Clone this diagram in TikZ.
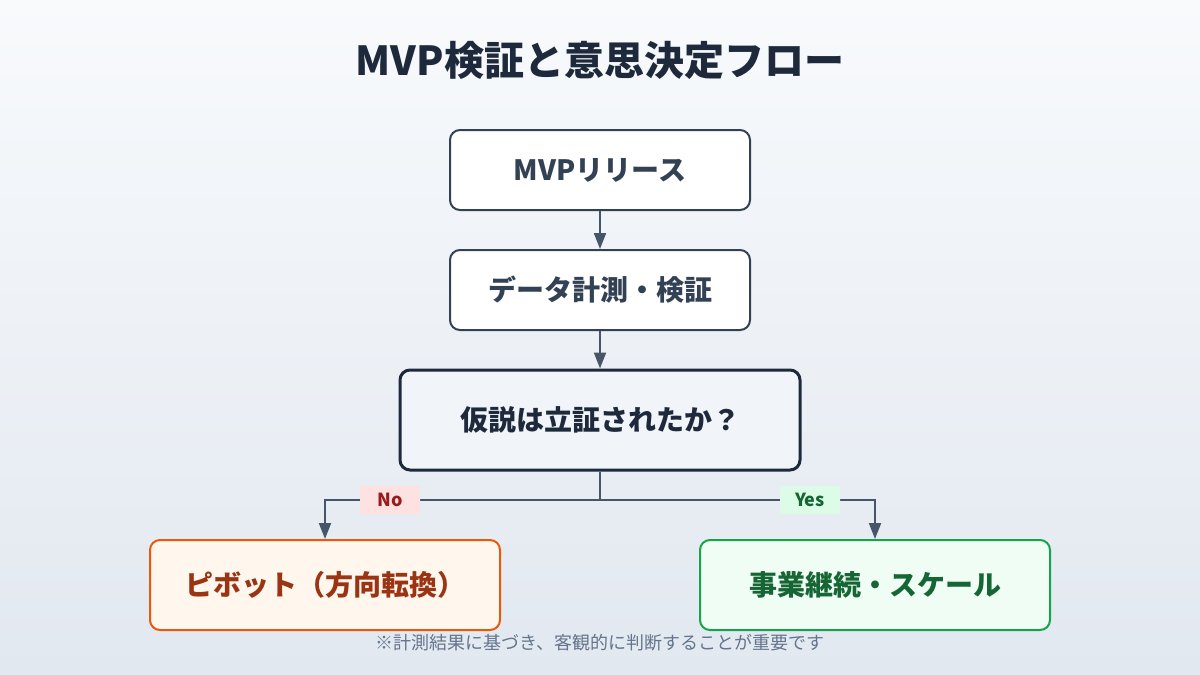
\documentclass[tikz,border=0pt]{standalone}
\usepackage{fontspec}
\setmainfont{Noto Sans CJK JP}
\usetikzlibrary{arrows.meta,positioning}
\definecolor{bgtop}{HTML}{F8FAFC}
\definecolor{bgbot}{HTML}{E2E8F0}
\definecolor{navy}{HTML}{1E293B}
\definecolor{slate}{HTML}{334155}
\definecolor{conn}{HTML}{475569}
\definecolor{gray5}{HTML}{64748B}
\definecolor{lightfill}{HTML}{F1F5F9}
\definecolor{orfill}{HTML}{FFF7ED}
\definecolor{ordraw}{HTML}{EA580C}
\definecolor{ortext}{HTML}{9A3412}
\definecolor{grfill}{HTML}{F0FDF4}
\definecolor{grdraw}{HTML}{16A34A}
\definecolor{grtext}{HTML}{166534}
\definecolor{nofill}{HTML}{FEE2E2}
\definecolor{notext}{HTML}{991B1B}
\definecolor{yesfill}{HTML}{DCFCE7}
\tikzset{
  procbox/.style={draw=slate, line width=2pt, fill=white, rounded corners=10pt,
    minimum width=300pt, minimum height=80pt, inner sep=0pt,
    font=\fontsize{28}{32}\selectfont\bfseries, text=slate},
  decbox/.style={draw=navy, line width=3pt, fill=lightfill, rounded corners=10pt,
    minimum width=400pt, minimum height=100pt, inner sep=0pt,
    font=\fontsize{28}{32}\selectfont\bfseries, text=navy},
  pivbox/.style={draw=ordraw, line width=2pt, fill=orfill, rounded corners=10pt,
    minimum width=350pt, minimum height=90pt, inner sep=0pt,
    font=\fontsize{28}{32}\selectfont\bfseries, text=ortext},
  contbox/.style={draw=grdraw, line width=2pt, fill=grfill, rounded corners=10pt,
    minimum width=350pt, minimum height=90pt, inner sep=0pt,
    font=\fontsize{28}{32}\selectfont\bfseries, text=grtext},
  conn/.style={draw=conn, line width=2pt, -{Triangle[length=16pt,width=12pt]}},
  tag/.style={minimum width=60pt, minimum height=28pt, inner sep=0pt, rounded corners=2pt,
    font=\fontsize{18}{20}\selectfont\bfseries},
}
\begin{document}
\begin{tikzpicture}[x=1pt,y=-1pt]
\shade[top color=bgtop, bottom color=bgbot] (0,0) rectangle (1200,675);
\useasboundingbox (0,0) rectangle (1200,675);
\node[font=\fontsize{40}{44}\selectfont\bfseries, text=navy] (title) at (600,60) {MVP検証と意思決定フロー};
\node[procbox] (release) at (600,170) {MVPリリース};
\node[procbox] (measure) at (600,290) {データ計測・検証};
\node[decbox] (decide) at (600,420) {仮説は立証されたか？};
\node[pivbox] (pivot) at (325,585) {ピボット（方向転換）};
\node[contbox] (cont) at (875,585) {事業継続・スケール};
\draw[conn] (release.south) -- (measure.north);
\draw[conn] (measure.south) -- (decide.north);
\coordinate (split) at (600,500);
\draw[draw=conn, line width=2pt] (decide.south) -- (split);
\draw[conn] (split) -| (pivot.north);
\draw[conn] (split) -| (cont.north);
\node[tag, fill=nofill, text=notext] (no) at (390,500) {No};
\node[tag, fill=yesfill, text=grtext] (yes) at (810,500) {Yes};
\node[font=\fontsize{18}{20}\selectfont, text=gray5] (note) at (600,643) {※計測結果に基づき、客観的に判断することが重要です};
\end{tikzpicture}
\end{document}
